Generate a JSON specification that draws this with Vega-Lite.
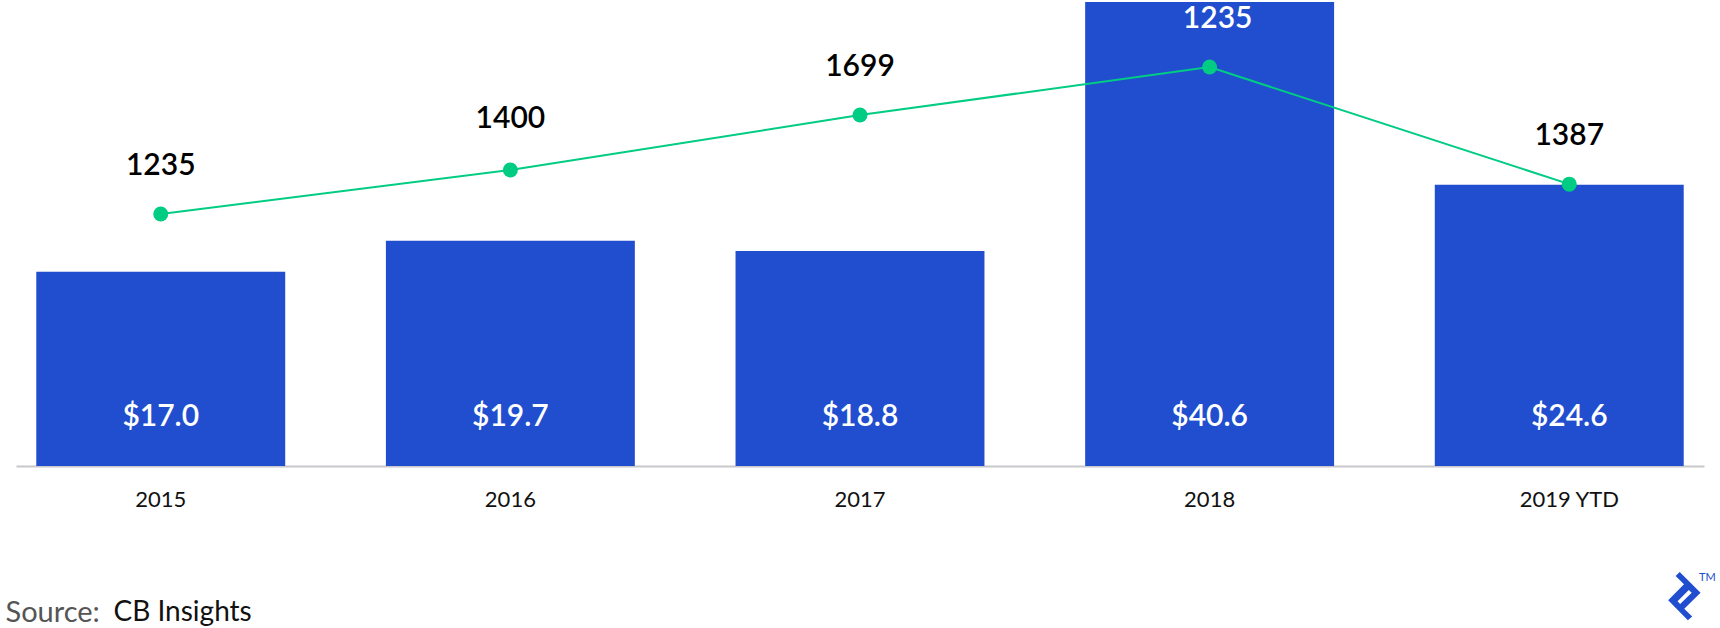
{
  "$schema": "https://vega.github.io/schema/vega-lite/v6.json",
  "width": 1688,
  "height": 466,
  "autosize": "none",
  "padding": {"left": 16, "right": 16, "top": 0, "bottom": 162},
  "background": "white",
  "config": {"view": {"stroke": null}, "font": "Lato"},
  "data": {
    "values": [
      {"year": "2015", "funding": 17.0, "deals": 1235, "plotted": 1235},
      {"year": "2016", "funding": 19.7, "deals": 1400, "plotted": 1400},
      {"year": "2017", "funding": 18.8, "deals": 1699, "plotted": 1606},
      {"year": "2018", "funding": 40.6, "deals": 1235, "plotted": 1786},
      {"year": "2019 YTD", "funding": 24.6, "deals": 1387, "plotted": 1347}
    ]
  },
  "encoding": {
    "x": {
      "field": "year",
      "type": "nominal",
      "sort": null,
      "scale": {"paddingInner": 0.288, "paddingOuter": 0.058},
      "axis": {
        "title": "Source:",
        "titleX": -11,
        "titleY": 146,
        "titleAlign": "left",
        "titleBaseline": "middle",
        "titleFontSize": 29,
        "titleFontWeight": "normal",
        "titleColor": "#555555",
        "labelAngle": 0,
        "labelFontSize": 22,
        "labelColor": "#111111",
        "labelPadding": 23,
        "labelOffset": {"condition": {"test": "datum.value === '2019 YTD'", "value": 10}, "value": 0},
        "ticks": false,
        "grid": false,
        "domainColor": "#c8c8cc",
        "domainWidth": 2
      }
    }
  },
  "layer": [
    {
      "mark": {"type": "bar", "color": "#204ecf"},
      "encoding": {
        "y": {
          "field": "funding",
          "type": "quantitative",
          "scale": {"domain": [0, 40.77]},
          "axis": {
            "title": "CB Insights",
            "titleAngle": 0,
            "titleX": 97,
            "titleY": 612,
            "titleAlign": "left",
            "titleBaseline": "middle",
            "titleFontSize": 28,
            "titleFontWeight": "normal",
            "titleColor": "#111111",
            "labels": false,
            "ticks": false,
            "domain": false,
            "grid": false
          }
        }
      }
    },
    {
      "mark": {
        "type": "text",
        "color": "white",
        "fontSize": 30,
        "fontWeight": 600,
        "baseline": "middle",
        "yOffset": -49,
        "xOffset": {"expr": "datum.year === '2019 YTD' ? 10 : 0"}
      },
      "encoding": {
        "y": {"datum": 0, "type": "quantitative", "scale": {"domain": [0, 40.77]}, "axis": null},
        "text": {"field": "funding", "type": "quantitative", "format": "$.1f"}
      }
    },
    {
      "mark": {
        "type": "line",
        "color": "#00cc83",
        "strokeWidth": 2,
        "xOffset": {"expr": "datum.year === '2019 YTD' ? 10 : 0"}
      },
      "encoding": {
        "y": {"field": "plotted", "type": "quantitative", "scale": {"domain": [290, 2037.5]}, "axis": null}
      }
    },
    {
      "mark": {
        "type": "point",
        "filled": true,
        "opacity": 1,
        "color": "#00cc83",
        "size": 225,
        "xOffset": {"expr": "datum.year === '2019 YTD' ? 10 : 0"}
      },
      "encoding": {
        "y": {"field": "plotted", "type": "quantitative", "scale": {"domain": [290, 2037.5]}, "axis": null}
      }
    },
    {
      "mark": {
        "type": "text",
        "fontSize": 30,
        "fontWeight": 600,
        "baseline": "middle",
        "yOffset": {"expr": "datum.year === '2016' ? -51 : -48"},
        "xOffset": {"expr": "datum.year === '2019 YTD' ? 10 : datum.year === '2018' ? 8 : 0"}
      },
      "encoding": {
        "y": {"field": "plotted", "type": "quantitative", "scale": {"domain": [290, 2037.5]}, "axis": null},
        "text": {"field": "deals", "type": "quantitative", "format": "d"},
        "color": {
          "condition": {"test": "datum.year === '2018'", "value": "white"},
          "value": "black"
        }
      }
    },
    {
      "data": {"values": [{"year": "2019 YTD"}]},
      "mark": {
        "type": "point",
        "filled": true,
        "opacity": 1,
        "color": "#204ecf",
        "size": 2304,
        "shape": "M-0.19,-1 L0.68,-0.14 L0,0.53 L0.33,0.85 L0.15,1.01 L-0.67,0.18 L-0.01,-0.49 L-0.36,-0.83 Z M-0.28,0.22 L-0.17,0.33 L0.31,-0.14 L0.19,-0.25 Z",
        "xOffset": 125,
        "yOffset": 130
      },
      "encoding": {
        "y": {"datum": 0, "type": "quantitative", "scale": {"domain": [0, 40.77]}, "axis": null}
      }
    },
    {
      "data": {"values": [{"year": "2019 YTD"}]},
      "mark": {
        "type": "text",
        "text": "TM",
        "color": "#204ecf",
        "fontSize": 11,
        "baseline": "middle",
        "xOffset": 148,
        "yOffset": 111.5
      },
      "encoding": {
        "y": {"datum": 0, "type": "quantitative", "scale": {"domain": [0, 40.77]}, "axis": null}
      }
    }
  ],
  "resolve": {"scale": {"y": "independent"}}
}
